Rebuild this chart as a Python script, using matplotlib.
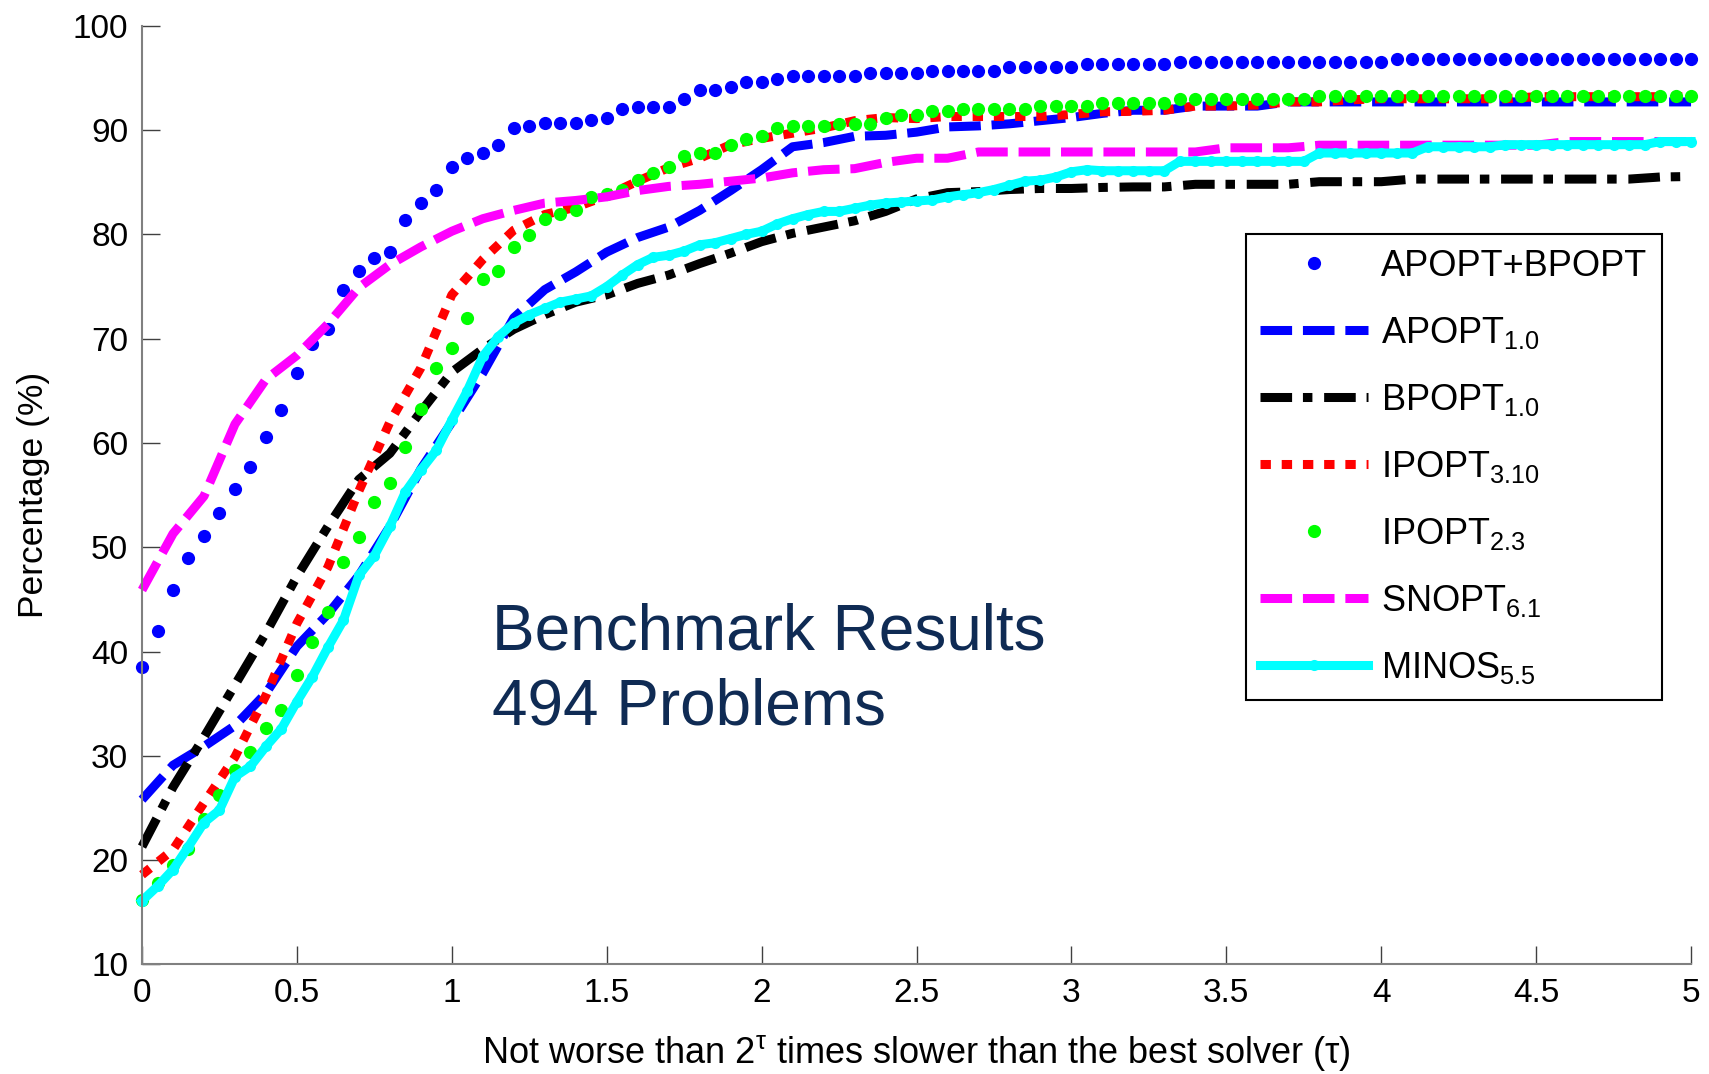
import matplotlib
matplotlib.use('Agg')
import matplotlib.pyplot as plt
import numpy as np

plt.rcParams['font.family'] = ['Liberation Sans', 'DejaVu Sans']
plt.rcParams['mathtext.default'] = 'regular'

# tau grid (fine for marker series, coarse for dashed lines)
tau_fine = np.linspace(0, 5, 101)
tau_coarse = np.linspace(0, 5, 51)

apopt_bpopt = [38.5, 42.0, 45.9, 49.0, 51.1, 53.3, 55.6, 57.7, 60.6, 63.2,
               66.7, 69.5, 70.9, 74.7, 76.5, 77.7, 78.3, 81.4, 83.0, 84.3,
               86.5, 87.3, 87.8, 88.6, 90.2, 90.4, 90.7, 90.7, 90.7, 91.0,
               91.2, 92.0, 92.2, 92.2, 92.2, 93.0, 93.8, 93.8, 94.1, 94.6,
               94.6, 94.9, 95.2, 95.2, 95.2, 95.2, 95.2, 95.5, 95.5, 95.5,
               95.5, 95.7, 95.7, 95.7, 95.7, 95.7, 96.0, 96.0, 96.0, 96.0,
               96.0, 96.3, 96.3, 96.3, 96.3, 96.3, 96.3, 96.5, 96.5, 96.5,
               96.5, 96.5, 96.5, 96.5, 96.5, 96.5, 96.5, 96.5, 96.5, 96.5,
               96.5, 96.8, 96.8, 96.8, 96.8, 96.8, 96.8, 96.8, 96.8, 96.8,
               96.8, 96.8, 96.8, 96.8, 96.8, 96.8, 96.8, 96.8, 96.8, 96.8,
               96.8]

ipopt23 = [16.2, 17.8, 19.5, 21.1, 23.9, 26.2, 28.6, 30.4, 32.7, 34.4,
           37.8, 40.9, 43.8, 48.6, 51.0, 54.3, 56.2, 59.6, 63.3, 67.2,
           69.1, 72.0, 75.7, 76.5, 78.8, 79.9, 81.5, 82.0, 82.3, 83.6,
           83.9, 84.3, 85.2, 85.9, 86.5, 87.5, 87.8, 87.8, 88.6, 89.1,
           89.4, 90.2, 90.4, 90.4, 90.4, 90.6, 90.6, 90.6, 91.2, 91.4,
           91.4, 91.8, 91.8, 92.0, 92.0, 92.0, 92.0, 92.0, 92.3, 92.3,
           92.3, 92.3, 92.6, 92.6, 92.6, 92.6, 92.6, 93.0, 93.0, 93.0,
           93.0, 93.0, 93.0, 93.0, 93.0, 93.0, 93.3, 93.3, 93.3, 93.3,
           93.3, 93.3, 93.3, 93.3, 93.3, 93.3, 93.3, 93.3, 93.3, 93.3,
           93.3, 93.3, 93.3, 93.3, 93.3, 93.3, 93.3, 93.3, 93.3, 93.3,
           93.3]

minos55 = [16.1, 17.5, 19.1, 21.3, 23.6, 24.8, 28.0, 29.0, 30.9, 32.6,
           35.2, 37.6, 40.4, 43.0, 47.3, 49.2, 52.0, 55.3, 57.4, 59.3,
           62.2, 65.0, 68.3, 70.2, 71.5, 72.3, 72.9, 73.5, 73.8, 74.1,
           75.0, 76.1, 77.1, 77.8, 78.0, 78.4, 79.0, 79.2, 79.6, 80.0,
           80.3, 81.0, 81.5, 81.9, 82.2, 82.2, 82.5, 82.8, 83.0, 83.1,
           83.2, 83.3, 83.6, 83.8, 84.0, 84.3, 84.7, 85.1, 85.2, 85.5,
           86.0, 86.2, 86.1, 86.1, 86.1, 86.1, 86.1, 87.0, 87.0, 87.0,
           87.0, 87.0, 87.0, 87.0, 87.0, 87.0, 87.8, 87.8, 87.8, 87.8,
           87.8, 87.8, 87.8, 88.4, 88.4, 88.4, 88.4, 88.4, 88.6, 88.6,
           88.6, 88.6, 88.6, 88.6, 88.6, 88.6, 88.6, 88.6, 88.9, 88.9,
           88.9]

apopt10 = [25.8, 29.1, 30.9, 32.9, 36.0, 40.5, 43.6, 47.3, 52.0, 57.5,
           62.0, 66.7, 72.0, 74.7, 76.4, 78.3, 79.7, 80.7, 82.3, 84.2,
           86.2, 88.4, 88.8, 89.4, 89.5, 89.8, 90.3, 90.4, 90.6, 90.9,
           91.2, 91.6, 91.9, 91.9, 92.3, 92.3, 92.3, 92.7, 92.7, 92.7,
           92.7, 92.7, 92.7, 92.7, 92.7, 92.7, 92.7, 92.7, 92.7, 92.7,
           92.7]

bpopt10 = [21.3, 27.0, 31.8, 36.8, 41.8, 47.2, 52.0, 56.5, 59.0, 63.0,
           66.8, 69.0, 70.9, 72.3, 73.5, 74.2, 75.3, 76.1, 77.2, 78.2,
           79.3, 80.1, 80.7, 81.3, 82.2, 83.4, 84.0, 84.1, 84.3, 84.4,
           84.4, 84.5, 84.55, 84.55, 84.8, 84.8, 84.8, 84.8, 85.05, 85.05,
           85.05, 85.3, 85.3, 85.3, 85.3, 85.3, 85.3, 85.3, 85.3, 85.5,
           85.55]

ipopt310 = [18.6, 21.0, 25.5, 29.9, 35.8, 42.7, 48.1, 55.4, 62.0, 67.2,
            74.2, 77.6, 80.4, 81.9, 82.6, 83.7, 85.1, 86.4, 87.3, 88.6,
            89.2, 89.7, 90.2, 90.9, 91.2, 91.1, 91.3, 91.3, 91.3, 91.3,
            91.5, 91.75, 91.8, 91.9, 92.3, 92.3, 92.4, 92.7, 92.7, 92.9,
            93.0, 93.0, 93.0, 93.0, 93.0, 93.2, 93.2, 93.2, 93.2, 93.2,
            93.2]

snopt61 = [45.9, 51.3, 54.9, 61.8, 66.1, 68.4, 71.4, 74.9, 77.1, 78.8,
           80.3, 81.5, 82.3, 83.0, 83.25, 83.6, 84.2, 84.6, 84.8, 85.1,
           85.4, 85.9, 86.2, 86.3, 86.9, 87.3, 87.3, 87.9, 87.9, 87.9,
           87.9, 87.9, 87.9, 87.9, 87.9, 88.3, 88.3, 88.3, 88.55, 88.55,
           88.55, 88.55, 88.55, 88.55, 88.55, 88.55, 88.9, 88.9, 88.9, 88.9,
           88.9]

labels = ['APOPT+BPOPT', 'APOPT$_{1.0}$', 'BPOPT$_{1.0}$', 'IPOPT$_{3.10}$',
          'IPOPT$_{2.3}$', 'SNOPT$_{6.1}$', 'MINOS$_{5.5}$']
x_ticks = [0, 0.5, 1, 1.5, 2, 2.5, 3, 3.5, 4, 4.5, 5]
x_tick_labels = ['0', '0.5', '1', '1.5', '2', '2.5', '3', '3.5', '4', '4.5', '5']
y_ticks = [10, 20, 30, 40, 50, 60, 70, 80, 90, 100]

fig = plt.figure(figsize=(17.09, 10.74), dpi=100)
ax = fig.add_axes([0.0831, 0.1020, 0.9064, 0.8740])

lw = 6.5
ax.plot(tau_fine, apopt_bpopt, 'o', color='#0000FF', ms=9.5, mew=0,
        clip_on=False, label=labels[0])
ax.plot(tau_coarse, apopt10, color='#0000FF', lw=lw, ls=(0, (3.5, 1.2)),
        clip_on=False, label=labels[1])
ax.plot(tau_coarse, bpopt10, color='#000000', lw=lw,
        ls=(0, (3.5, 1.2, 1.05, 1.3)), clip_on=False, label=labels[2])
ax.plot(tau_coarse, ipopt310, color='#FF0000', lw=lw, ls=(0, (1.15, 1.2)),
        clip_on=False, label=labels[3])
ax.plot(tau_fine, ipopt23, 'o', color='#00FF00', ms=9.5, mew=0,
        clip_on=False, label=labels[4])
ax.plot(tau_coarse, snopt61, color='#FF00FF', lw=lw, ls=(0, (3.5, 1.2)),
        clip_on=False, label=labels[5])
ax.plot(tau_fine, minos55, '-o', color='#00FFFF', lw=lw, ms=8, mew=0,
        clip_on=False, label=labels[6])

ax.set_xlim(0, 5)
ax.set_ylim(10, 100)
ax.set_xticks(x_ticks)
ax.set_xticklabels(x_tick_labels)
ax.set_yticks(y_ticks)
ax.tick_params(direction='in', length=13, width=1, colors='#404040',
               labelcolor='black', labelsize=24, pad=10)
for side in ['top', 'right']:
    ax.spines[side].set_visible(False)
for side in ['left', 'bottom']:
    ax.spines[side].set_color('#808080')
    ax.spines[side].set_linewidth(1.5)

ax.set_xlabel(r'Not worse than 2$^{\tau}$ times slower than the best solver ($\tau$)',
              fontsize=26, labelpad=17)
ax.set_ylabel('Percentage (%)', fontsize=25.5, labelpad=16)

ax.text(1.13, 44.7, 'Benchmark Results\n494 Problems', fontsize=46,
        color='#0F2B54', va='top', ha='left', linespacing=1.32)

leg = ax.legend(loc='upper right', bbox_to_anchor=(0.981, 0.778),
                borderaxespad=0, fontsize=26, numpoints=1, handlelength=3.0,
                handletextpad=0.35, borderpad=0.4, labelspacing=0.86,
                fancybox=False, framealpha=1, edgecolor='black')
leg.get_frame().set_linewidth(1.5)

fig.savefig('out.png', dpi=100)
